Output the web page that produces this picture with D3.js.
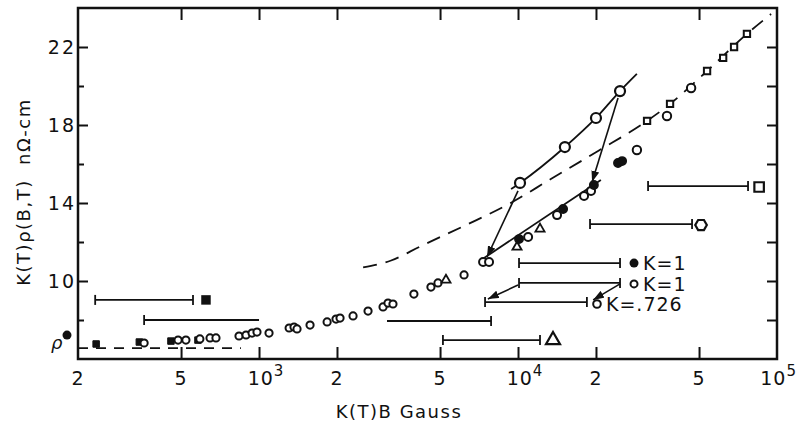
<!DOCTYPE html>
<html>
<head>
<meta charset="utf-8">
<script src="https://cdn.jsdelivr.net/npm/d3@7"></script>
<style>
  body { margin: 0; background: #fff; }
  svg text { font-family: 'DejaVu Sans', sans-serif; fill: #111; }
</style>
</head>
<body>
<div id="vis"></div>
<script>
// values: x = K(T)B gauss, y = K(T)rho nOhm-cm

const smallOpen = [[360,6.82],[487,6.97],[522,6.97],[591,7.03],[647,7.08],[682,7.08],[837,7.18],[891,7.23],
  [940,7.33],[982,7.38],[1093,7.33],[1307,7.59],[1365,7.64],[1402,7.54],[1574,7.74],[1832,7.90],[1983,8.05],
  [2055,8.10],[2307,8.21],[2636,8.46],[3012,8.67],[3148,8.87],[3290,8.82],[3963,9.33],[4611,9.69],[4909,9.90],
  [6190,10.31]];
const filledSquares = [[235,6.77],[345,6.87],[457,6.92],[581,6.97]];

const lowerOpen = [[7330,10.97],[7730,10.97],[10940,12.26],[14150,13.38],[17990,14.36],[19140,14.62]];
const lowerFilled = [[10090,12.15],[14930,13.69],[19630,14.92],[24330,16.05],[25230,16.15]];
const triangles = [[5270,10.05],[9910,11.74],[12160,12.67]];
const lowerLine = [[7150,11.05],[20890,15.18]];

const upperOpen = [[10180,15.03],[15170,16.87],[20000,18.36],[24770,19.74]];
const upperLine = [[9400,14.72],[10180,15.03],[15170,16.87],[20000,18.36],[24770,19.74],[28780,20.62]];

const highOpen = [[28780,16.72],[37600,18.46],[46600,19.90]];
const openSquares = [[31500,18.21],[38640,19.08],[53700,20.77],[61960,21.44],[68270,22.0],[76550,22.67]];
const dashedCurve = [[2523,10.70],[3236,11.05],[4218,11.79],[6298,12.87],[9226,13.95],[13390,15.23],
  [20380,16.67],[31500,18.21],[38640,19.08],[53700,20.77],[76550,22.67],[94900,23.69]];

const rhoY = 6.56;
const rhoLine = [[200,rhoY],[851,rhoY]];

// horizontal range bars
const barLo = [233, 360, 3120, 5130, 7460, 10090, 10090, 18970, 31780];
const barHi = [556, 1000, 7870, 12160, 18450, 24770, 24770, 46990, 77300];
const barY = [9.03, 8.0, 7.95, 6.97, 8.92, 9.90, 10.92, 12.92, 14.87];
const barCaps = ['both', 'left', 'right', 'both', 'both', 'both', 'both', 'both', 'both'];

// arrows: x1, y1, x2, y2
const arrows = [[10000,14.62,7590,11.23],[24330,19.38,19320,15.08],[10000,9.79,7650,9.08],[24770,9.85,19500,9.03]];

const xTicks = [500, 1000, 2000, 5000, 1e4, 2e4, 5e4];
const xLabelVals = [200, 500, 1000, 2000, 5000, 1e4, 2e4, 5e4, 1e5];
const xLabelBase = ['2', '5', '10', '2', '5', '10', '2', '5', '10'];
const xLabelExp = ['', '', '3', '', '', '4', '', '', '5'];
const yMajor = [10, 14, 18, 22];
const yMinor = [8, 12, 16, 20];

(function() {
  const svg_width = 800,
        svg_height = 436,
        svg = d3.select('#vis').append('svg')

  svg.attr('width', svg_width).attr('height', svg_height)

  const x = d3.scaleLog().domain([200, 1e5]).range([78, 777])
  const y = d3.scaleLinear().domain([6, 24]).range([359, 8])
  const [x0, x1] = x.range(), [y0, y1] = y.range()

  svg.append('defs').append('marker')
    .attr('id', 'arrow')
    .attr('markerUnits', 'userSpaceOnUse')
    .attr('markerWidth', 12).attr('markerHeight', 8)
    .attr('refX', 11).attr('refY', 4)
    .attr('orient', 'auto')
    .append('path').attr('d', 'M0,0 L11,4 L0,8 Z').attr('fill', '#111')

  // axes, all ticks pointing inward
  const axisStyle = g => {
    g.select('.domain').remove()
    g.selectAll('.tick line').attr('stroke', '#111').attr('stroke-width', 2)
  }
  svg.append('g').attr('transform', `translate(0,${y0})`)
    .call(d3.axisBottom(x).tickValues(xTicks).tickSize(-12).tickFormat(''))
    .call(axisStyle)
  svg.append('g').attr('transform', `translate(0,${y1})`)
    .call(d3.axisTop(x).tickValues(xTicks).tickSize(-12).tickFormat(''))
    .call(axisStyle)
  svg.append('g').attr('transform', `translate(${x0},0)`)
    .call(d3.axisLeft(y).tickValues(yMajor).tickSize(-10).tickFormat(''))
    .call(axisStyle)
  svg.append('g').attr('transform', `translate(${x0},0)`)
    .call(d3.axisLeft(y).tickValues(yMinor).tickSize(-6).tickFormat(''))
    .call(axisStyle)
  svg.append('g').attr('transform', `translate(${x1},0)`)
    .call(d3.axisRight(y).tickValues(yMajor.concat(yMinor)).tickSize(-10).tickFormat(''))
    .call(axisStyle)

  svg.append('rect')
    .attr('x', x0).attr('y', y1)
    .attr('width', x1 - x0).attr('height', y0 - y1)
    .attr('fill', 'none').attr('stroke', '#111').attr('stroke-width', 2.5)

  // tick labels
  svg.append('g').selectAll('text').data(yMajor).join('text')
    .attr('x', x0 - 2).attr('y', d => y(d) + 7)
    .attr('text-anchor', 'end')
    .attr('font-size', 19).attr('letter-spacing', 2)
    .text(d => d)

  const last = xLabelVals.length - 1
  const xl = svg.append('g').selectAll('text').data(xLabelVals).join('text')
    .attr('x', (d, i) => i === last ? svg_width - 3 : x(d) + (xLabelExp[i] ? 7 : 0))
    .attr('y', 385)
    .attr('text-anchor', (d, i) => i === last ? 'end' : 'middle')
    .attr('font-size', 19).attr('letter-spacing', 1)
  xl.append('tspan').text((d, i) => xLabelBase[i])
  xl.append('tspan').attr('dy', -9).attr('font-size', 15).text((d, i) => xLabelExp[i])

  svg.append('text')
    .attr('x', 399).attr('y', 418)
    .attr('text-anchor', 'middle')
    .attr('font-size', 18).attr('letter-spacing', 1.5)
    .text('K(T)B Gauss')

  svg.append('text')
    .attr('transform', 'translate(30,192) rotate(-90)')
    .attr('text-anchor', 'middle')
    .attr('font-size', 18).attr('letter-spacing', 1.5)
    .text('K(T)ρ(B,T)\u00a0\u00a0nΩ-cm')

  // rho marker left of axis
  svg.append('text')
    .attr('x', x0 - 27).attr('y', y(rhoY) + 1)
    .attr('font-size', 18).attr('font-style', 'italic')
    .text('ρ')
  svg.append('circle')
    .attr('cx', x0 - 11).attr('cy', y(rhoY) - 13).attr('r', 4.5)
    .attr('fill', '#111')

  // curves
  const line = d3.line().x(d => x(d[0])).y(d => y(d[1]))
  const curve = d3.line().x(d => x(d[0])).y(d => y(d[1])).curve(d3.curveMonotoneX)

  svg.append('path').attr('d', line(rhoLine))
    .attr('fill', 'none').attr('stroke', '#111').attr('stroke-width', 1.8)
    .attr('stroke-dasharray', '10,8')
  svg.append('path').attr('d', curve(dashedCurve))
    .attr('fill', 'none').attr('stroke', '#111').attr('stroke-width', 1.8)
    .attr('stroke-dasharray', '14,9')
  svg.append('path').attr('d', curve(upperLine))
    .attr('fill', 'none').attr('stroke', '#111').attr('stroke-width', 1.8)
  svg.append('path').attr('d', line(lowerLine))
    .attr('fill', 'none').attr('stroke', '#111').attr('stroke-width', 1.8)

  // range bars
  const bars = svg.append('g').attr('stroke', '#111').attr('stroke-width', 1.8)
  barLo.forEach((lo, i) => {
    const yy = y(barY[i])
    bars.append('line').attr('x1', x(lo)).attr('x2', x(barHi[i])).attr('y1', yy).attr('y2', yy)
    if (barCaps[i] !== 'right') bars.append('line').attr('x1', x(lo)).attr('x2', x(lo)).attr('y1', yy - 5).attr('y2', yy + 5)
    if (barCaps[i] !== 'left') bars.append('line').attr('x1', x(barHi[i])).attr('x2', x(barHi[i])).attr('y1', yy - 5).attr('y2', yy + 5)
  })

  svg.append('g').selectAll('line').data(arrows).join('line')
    .attr('x1', d => x(d[0])).attr('y1', d => y(d[1]))
    .attr('x2', d => x(d[2])).attr('y2', d => y(d[3]))
    .attr('stroke', '#111').attr('stroke-width', 1.6)
    .attr('marker-end', 'url(#arrow)')

  // points
  const dots = (data, r, filled, sw) => svg.append('g').selectAll('circle').data(data).join('circle')
    .attr('cx', d => x(d[0])).attr('cy', d => y(d[1])).attr('r', r)
    .attr('fill', filled ? '#111' : '#fff').attr('stroke', '#111').attr('stroke-width', sw)

  const symbols = (data, type, size, filled, sw) => svg.append('g').selectAll('path').data(data).join('path')
    .attr('transform', d => `translate(${x(d[0])},${y(d[1])})`)
    .attr('d', d3.symbol(type, size))
    .attr('fill', filled ? '#111' : '#fff').attr('stroke', '#111').attr('stroke-width', sw)

  symbols(filledSquares, d3.symbolSquare, 42, true, 1)
  dots(smallOpen, 3.6, false, 2)
  symbols(triangles, d3.symbolTriangle, 36, false, 1.8)
  dots(lowerOpen, 4, false, 2)
  dots(lowerFilled, 4.2, true, 1.5)
  dots(upperOpen, 5, false, 2.2)
  dots(highOpen, 4.2, false, 2)
  symbols(openSquares, d3.symbolSquare, 40, false, 2)

  // markers at range bar ends
  const hex = (cx, cy, r) => 'M' + d3.range(6).map(k => {
    const a = Math.PI / 3 * k
    return [cx + r * Math.cos(a), cy + r * Math.sin(a)]
  }).join('L') + 'Z'

  const ends = svg.append('g')
  ends.append('path').attr('transform', `translate(${x(624)},${y(9.03)})`)
    .attr('d', d3.symbol(d3.symbolSquare, 90)).attr('fill', '#111')
  ends.append('path').attr('transform', `translate(${x(13650)},${y(6.97)})`)
    .attr('d', d3.symbol(d3.symbolTriangle, 85)).attr('fill', '#fff').attr('stroke', '#111').attr('stroke-width', 2.2)
  ends.append('circle').attr('cx', x(20180)).attr('cy', y(8.82)).attr('r', 3.8)
    .attr('fill', '#fff').attr('stroke', '#111').attr('stroke-width', 2)
  ends.append('circle').attr('cx', x(28050)).attr('cy', y(9.85)).attr('r', 3.5)
    .attr('fill', '#fff').attr('stroke', '#111').attr('stroke-width', 2)
  ends.append('circle').attr('cx', x(28050)).attr('cy', y(10.92)).attr('r', 4.5)
    .attr('fill', '#111')
  ends.append('path').attr('d', hex(x(50900), y(12.87), 5.8))
    .attr('fill', '#fff').attr('stroke', '#111').attr('stroke-width', 2.2)
  ends.append('path').attr('transform', `translate(${x(85300)},${y(14.82)})`)
    .attr('d', d3.symbol(d3.symbolSquare, 90)).attr('fill', '#fff').attr('stroke', '#111').attr('stroke-width', 2.2)

  const keyText = [['K=1', 28050, 10.92], ['K=1', 28050, 9.85], ['K=.726', 20180, 8.82]]
  svg.append('g').selectAll('text').data(keyText).join('text')
    .attr('x', d => x(d[1]) + 9).attr('y', d => y(d[2]) + 7)
    .attr('font-size', 19).attr('letter-spacing', 1)
    .text(d => d[0])
}())
</script>
</body>
</html>
